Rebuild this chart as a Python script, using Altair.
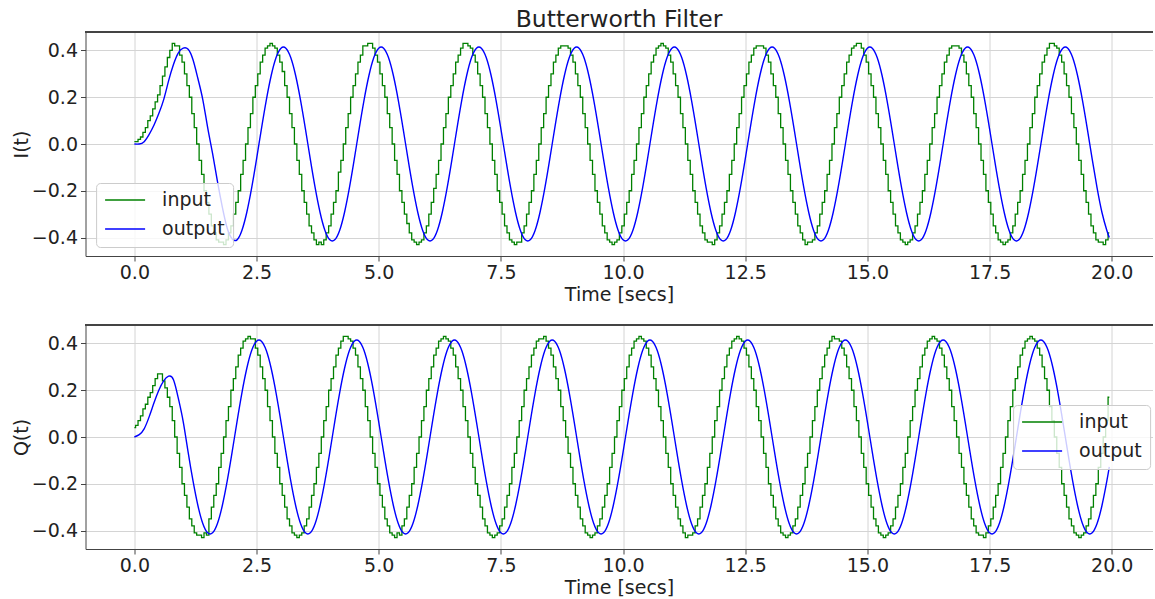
import altair as alt
import pandas as pd

# ---------------- data ----------------
# sampling grids of the recording, seconds
TIME_IN = [round(i * 0.05, 2) for i in range(400)]             # quantised inputs
TIME_OUT = [round(i * 0.1, 1) for i in range(200)] + [19.95]   # filter outputs

SERIES = ["input", "output"]
COLORS = ["#008000", "#0000ff"]
X_TICKS = [0.0, 2.5, 5.0, 7.5, 10.0, 12.5, 15.0, 17.5, 20.0]
Y_TICKS = [-0.4, -0.2, 0.0, 0.2, 0.4]

I_INPUT = [
    # 0.00 - 0.75
    0.01, 0.01, 0.02, 0.03, 0.05, 0.07, 0.10, 0.12, 0.15, 0.18, 0.21, 0.25, 0.29, 0.33, 0.37, 0.40,
    # 0.80 - 2.75
    0.43, 0.42, 0.42, 0.38, 0.35, 0.30, 0.25, 0.20, 0.13, 0.07, 0.00, -0.07, -0.13, -0.20, -0.25, -0.30, -0.35, -0.38, -0.41, -0.42,
    -0.42, -0.43, -0.41, -0.38, -0.35, -0.30, -0.25, -0.20, -0.13, -0.07, 0.00, 0.07, 0.13, 0.20, 0.25, 0.30, 0.35, 0.38, 0.41, 0.42,
    # 2.80 - 4.75
    0.43, 0.42, 0.41, 0.38, 0.35, 0.31, 0.25, 0.20, 0.13, 0.07, 0.00, -0.07, -0.13, -0.20, -0.25, -0.30, -0.35, -0.38, -0.41, -0.43,
    -0.42, -0.43, -0.41, -0.38, -0.35, -0.30, -0.25, -0.20, -0.12, -0.07, 0.00, 0.07, 0.13, 0.20, 0.25, 0.30, 0.35, 0.38, 0.42, 0.42,
    # 4.80 - 6.75
    0.43, 0.43, 0.41, 0.38, 0.35, 0.30, 0.25, 0.20, 0.13, 0.07, 0.00, -0.07, -0.13, -0.20, -0.25, -0.30, -0.34, -0.38, -0.41, -0.42,
    -0.43, -0.42, -0.41, -0.38, -0.35, -0.30, -0.25, -0.19, -0.13, -0.07, 0.00, 0.07, 0.13, 0.20, 0.25, 0.30, 0.35, 0.38, 0.41, 0.43,
    # 6.80 - 8.75
    0.43, 0.42, 0.41, 0.38, 0.35, 0.30, 0.25, 0.20, 0.13, 0.07, 0.00, -0.07, -0.13, -0.20, -0.25, -0.30, -0.35, -0.38, -0.41, -0.42,
    -0.43, -0.42, -0.42, -0.38, -0.35, -0.30, -0.25, -0.20, -0.13, -0.07, 0.00, 0.07, 0.13, 0.20, 0.25, 0.30, 0.35, 0.38, 0.41, 0.42,
    # 8.80 - 10.75
    0.42, 0.42, 0.41, 0.38, 0.35, 0.30, 0.25, 0.20, 0.13, 0.07, 0.00, -0.07, -0.13, -0.20, -0.25, -0.30, -0.35, -0.38, -0.41, -0.42,
    -0.43, -0.42, -0.41, -0.38, -0.35, -0.30, -0.25, -0.20, -0.13, -0.07, 0.00, 0.07, 0.13, 0.20, 0.25, 0.30, 0.35, 0.38, 0.41, 0.42,
    # 10.80 - 12.75
    0.43, 0.42, 0.41, 0.38, 0.35, 0.30, 0.25, 0.20, 0.13, 0.07, 0.00, -0.07, -0.13, -0.20, -0.25, -0.30, -0.35, -0.38, -0.41, -0.42,
    -0.42, -0.43, -0.41, -0.38, -0.35, -0.30, -0.25, -0.20, -0.13, -0.07, 0.00, 0.07, 0.13, 0.20, 0.25, 0.30, 0.35, 0.38, 0.41, 0.42,
    # 12.80 - 14.75
    0.42, 0.42, 0.41, 0.38, 0.35, 0.30, 0.25, 0.20, 0.13, 0.07, 0.00, -0.07, -0.13, -0.20, -0.25, -0.30, -0.35, -0.38, -0.41, -0.43,
    -0.42, -0.42, -0.41, -0.38, -0.35, -0.30, -0.25, -0.20, -0.13, -0.07, 0.00, 0.07, 0.13, 0.20, 0.25, 0.30, 0.35, 0.38, 0.41, 0.42,
    # 14.80 - 16.75
    0.43, 0.43, 0.41, 0.38, 0.35, 0.30, 0.25, 0.20, 0.13, 0.07, 0.00, -0.07, -0.13, -0.20, -0.25, -0.30, -0.35, -0.38, -0.41, -0.42,
    -0.43, -0.42, -0.41, -0.38, -0.35, -0.30, -0.25, -0.20, -0.13, -0.07, 0.00, 0.07, 0.13, 0.20, 0.25, 0.30, 0.35, 0.38, 0.41, 0.42,
    # 16.80 - 18.75
    0.42, 0.42, 0.41, 0.38, 0.35, 0.30, 0.25, 0.20, 0.13, 0.07, 0.00, -0.07, -0.13, -0.20, -0.25, -0.30, -0.35, -0.38, -0.41, -0.42,
    -0.43, -0.42, -0.41, -0.38, -0.35, -0.30, -0.25, -0.20, -0.13, -0.07, 0.00, 0.07, 0.13, 0.20, 0.25, 0.30, 0.35, 0.38, 0.41, 0.43,
    # 18.80 - 19.95
    0.43, 0.42, 0.41, 0.38, 0.35, 0.30, 0.25, 0.20, 0.13, 0.07, 0.00, -0.07, -0.13, -0.20, -0.25, -0.30, -0.35, -0.38, -0.41, -0.42,
    -0.42, -0.43, -0.41, -0.38,
]

I_OUTPUT = [
    0.000, 0.000, 0.010, 0.040, 0.080, 0.130, 0.190, 0.270, 0.340, 0.390,
    0.410, 0.405, 0.360, 0.280, 0.190, 0.070, -0.040, -0.160, -0.270, -0.360,
    -0.405, -0.410, -0.370, -0.293, -0.188, -0.065, 0.065, 0.188, 0.293, 0.370,
    0.410, 0.410, 0.370, 0.293, 0.188, 0.065, -0.065, -0.188, -0.293, -0.370,
    -0.410, -0.410, -0.370, -0.293, -0.188, -0.065, 0.065, 0.188, 0.293, 0.370,
    0.410, 0.410, 0.370, 0.293, 0.188, 0.065, -0.065, -0.188, -0.293, -0.370,
    -0.410, -0.410, -0.370, -0.293, -0.188, -0.065, 0.065, 0.188, 0.293, 0.370,
    0.410, 0.410, 0.370, 0.293, 0.188, 0.065, -0.065, -0.188, -0.293, -0.370,
    -0.410, -0.410, -0.370, -0.293, -0.188, -0.065, 0.065, 0.188, 0.293, 0.370,
    0.410, 0.410, 0.370, 0.293, 0.188, 0.065, -0.065, -0.188, -0.293, -0.370,
    -0.410, -0.410, -0.370, -0.293, -0.188, -0.065, 0.065, 0.188, 0.293, 0.370,
    0.410, 0.410, 0.370, 0.293, 0.188, 0.065, -0.065, -0.188, -0.293, -0.370,
    -0.410, -0.410, -0.370, -0.293, -0.188, -0.065, 0.065, 0.188, 0.293, 0.370,
    0.410, 0.410, 0.370, 0.293, 0.188, 0.065, -0.065, -0.188, -0.293, -0.370,
    -0.410, -0.410, -0.370, -0.293, -0.188, -0.065, 0.065, 0.188, 0.293, 0.370,
    0.410, 0.410, 0.370, 0.293, 0.188, 0.065, -0.065, -0.188, -0.293, -0.370,
    -0.410, -0.410, -0.370, -0.293, -0.188, -0.065, 0.065, 0.188, 0.293, 0.370,
    0.410, 0.410, 0.370, 0.293, 0.188, 0.065, -0.065, -0.188, -0.293, -0.370,
    -0.410, -0.410, -0.370, -0.293, -0.188, -0.065, 0.065, 0.188, 0.293, 0.370,
    0.410, 0.410, 0.370, 0.293, 0.188, 0.065, -0.065, -0.188, -0.293, -0.370,
    -0.400,
]

Q_INPUT = [
    # 0.00 - 0.70
    0.04, 0.05, 0.07, 0.09, 0.12, 0.14, 0.17, 0.19, 0.22, 0.25, 0.27, 0.27, 0.24, 0.21, 0.17,
    # 0.75 - 2.70
    0.13, 0.07, 0.00, -0.07, -0.13, -0.20, -0.25, -0.30, -0.35, -0.38, -0.41, -0.42, -0.42, -0.43, -0.41, -0.42, -0.35, -0.30, -0.25, -0.20,
    -0.13, -0.07, 0.00, 0.07, 0.13, 0.20, 0.25, 0.30, 0.35, 0.38, 0.41, 0.42, 0.43, 0.42, 0.42, 0.38, 0.35, 0.30, 0.25, 0.20,
    # 2.75 - 4.70
    0.13, 0.07, 0.00, -0.07, -0.13, -0.20, -0.25, -0.30, -0.35, -0.38, -0.41, -0.42, -0.43, -0.42, -0.41, -0.38, -0.35, -0.30, -0.25, -0.20,
    -0.13, -0.07, 0.00, 0.07, 0.13, 0.20, 0.25, 0.30, 0.35, 0.38, 0.41, 0.43, 0.43, 0.42, 0.41, 0.38, 0.35, 0.30, 0.25, 0.20,
    # 4.75 - 6.70
    0.13, 0.07, 0.00, -0.07, -0.13, -0.20, -0.25, -0.30, -0.35, -0.38, -0.41, -0.42, -0.43, -0.41, -0.42, -0.38, -0.35, -0.30, -0.25, -0.20,
    -0.13, -0.07, 0.00, 0.07, 0.13, 0.20, 0.25, 0.30, 0.35, 0.38, 0.41, 0.42, 0.43, 0.42, 0.41, 0.38, 0.35, 0.30, 0.25, 0.20,
    # 6.75 - 8.70
    0.13, 0.07, 0.00, -0.07, -0.13, -0.20, -0.25, -0.30, -0.35, -0.38, -0.41, -0.42, -0.43, -0.42, -0.41, -0.38, -0.35, -0.30, -0.25, -0.20,
    -0.13, -0.07, 0.00, 0.07, 0.13, 0.20, 0.25, 0.30, 0.35, 0.38, 0.41, 0.42, 0.42, 0.43, 0.41, 0.38, 0.35, 0.30, 0.25, 0.20,
    # 8.75 - 10.70
    0.13, 0.07, 0.00, -0.07, -0.13, -0.20, -0.25, -0.30, -0.35, -0.38, -0.41, -0.42, -0.43, -0.42, -0.41, -0.38, -0.35, -0.30, -0.25, -0.20,
    -0.13, -0.07, 0.00, 0.07, 0.13, 0.20, 0.25, 0.30, 0.35, 0.38, 0.41, 0.42, 0.43, 0.42, 0.41, 0.38, 0.35, 0.30, 0.25, 0.20,
    # 10.75 - 12.70
    0.13, 0.07, 0.00, -0.07, -0.13, -0.20, -0.25, -0.30, -0.35, -0.38, -0.41, -0.43, -0.42, -0.42, -0.41, -0.38, -0.35, -0.30, -0.25, -0.20,
    -0.13, -0.07, 0.00, 0.07, 0.13, 0.20, 0.25, 0.30, 0.35, 0.38, 0.41, 0.42, 0.43, 0.42, 0.41, 0.38, 0.35, 0.30, 0.25, 0.20,
    # 12.75 - 14.70
    0.13, 0.07, 0.00, -0.07, -0.13, -0.20, -0.25, -0.30, -0.35, -0.38, -0.41, -0.42, -0.43, -0.42, -0.41, -0.38, -0.35, -0.30, -0.25, -0.20,
    -0.13, -0.07, 0.00, 0.07, 0.13, 0.20, 0.25, 0.30, 0.35, 0.38, 0.41, 0.43, 0.42, 0.42, 0.41, 0.38, 0.35, 0.30, 0.25, 0.20,
    # 14.75 - 16.70
    0.13, 0.07, 0.00, -0.07, -0.13, -0.20, -0.25, -0.30, -0.35, -0.38, -0.41, -0.42, -0.43, -0.42, -0.41, -0.38, -0.35, -0.30, -0.25, -0.20,
    -0.13, -0.07, 0.00, 0.07, 0.13, 0.20, 0.25, 0.30, 0.35, 0.38, 0.41, 0.42, 0.43, 0.42, 0.41, 0.38, 0.35, 0.30, 0.25, 0.20,
    # 16.75 - 18.70
    0.13, 0.07, 0.00, -0.07, -0.13, -0.20, -0.25, -0.30, -0.35, -0.38, -0.41, -0.42, -0.42, -0.43, -0.41, -0.38, -0.35, -0.30, -0.25, -0.20,
    -0.13, -0.07, 0.00, 0.07, 0.13, 0.20, 0.25, 0.30, 0.35, 0.38, 0.41, 0.42, 0.43, 0.42, 0.41, 0.38, 0.35, 0.30, 0.25, 0.20,
    # 18.75 - 19.95
    0.13, 0.07, 0.00, -0.07, -0.13, -0.20, -0.25, -0.30, -0.35, -0.38, -0.41, -0.42, -0.43, -0.42, -0.41, -0.38, -0.35, -0.30, -0.25, -0.20,
    -0.13, -0.07, 0.00, 0.07, 0.17,
]

Q_OUTPUT = [
    0.000, 0.010, 0.035, 0.085, 0.145, 0.200, 0.240, 0.260, 0.245, 0.165,
    0.065, -0.065, -0.188, -0.293, -0.370, -0.410, -0.410, -0.370, -0.293, -0.188,
    -0.065, 0.065, 0.188, 0.293, 0.370, 0.410, 0.410, 0.370, 0.293, 0.188,
    0.065, -0.065, -0.188, -0.293, -0.370, -0.410, -0.410, -0.370, -0.293, -0.188,
    -0.065, 0.065, 0.188, 0.293, 0.370, 0.410, 0.410, 0.370, 0.293, 0.188,
    0.065, -0.065, -0.188, -0.293, -0.370, -0.410, -0.410, -0.370, -0.293, -0.188,
    -0.065, 0.065, 0.188, 0.293, 0.370, 0.410, 0.410, 0.370, 0.293, 0.188,
    0.065, -0.065, -0.188, -0.293, -0.370, -0.410, -0.410, -0.370, -0.293, -0.188,
    -0.065, 0.065, 0.188, 0.293, 0.370, 0.410, 0.410, 0.370, 0.293, 0.188,
    0.065, -0.065, -0.188, -0.293, -0.370, -0.410, -0.410, -0.370, -0.293, -0.188,
    -0.065, 0.065, 0.188, 0.293, 0.370, 0.410, 0.410, 0.370, 0.293, 0.188,
    0.065, -0.065, -0.188, -0.293, -0.370, -0.410, -0.410, -0.370, -0.293, -0.188,
    -0.065, 0.065, 0.188, 0.293, 0.370, 0.410, 0.410, 0.370, 0.293, 0.188,
    0.065, -0.065, -0.188, -0.293, -0.370, -0.410, -0.410, -0.370, -0.293, -0.188,
    -0.065, 0.065, 0.188, 0.293, 0.370, 0.410, 0.410, 0.370, 0.293, 0.188,
    0.065, -0.065, -0.188, -0.293, -0.370, -0.410, -0.410, -0.370, -0.293, -0.188,
    -0.065, 0.065, 0.188, 0.293, 0.370, 0.410, 0.410, 0.370, 0.293, 0.188,
    0.065, -0.065, -0.188, -0.293, -0.370, -0.410, -0.410, -0.370, -0.293, -0.188,
    -0.065, 0.065, 0.188, 0.293, 0.370, 0.410, 0.410, 0.370, 0.293, 0.188,
    0.065, -0.065, -0.188, -0.293, -0.370, -0.410, -0.410, -0.370, -0.293, -0.188,
    -0.128,
]

# ---------------- layout ----------------
FONT = "DejaVu Sans"
W = 1067          # plot width (reference plot runs past the right edge)
H = 224
X_DOMAIN = [-1.0, 20.834]
Y_DOMAIN = [-0.479, 0.479]
FRAME = "#444444"
TEXT = "#222222"
GRID = "#d4d4d4"


def frame_of(times, values, name):
    n = min(len(times), len(values))
    return pd.DataFrame({"t": times[:n], "v": values[:n], "s": name})


def panel(inp, out, ylab, legend_xy, title=None):
    df_in = frame_of(TIME_IN, inp, SERIES[0])
    df_out = frame_of(TIME_OUT, out, SERIES[1])

    x = alt.X(
        "t:Q",
        scale=alt.Scale(domain=X_DOMAIN, nice=False, zero=False),
        axis=alt.Axis(
            values=X_TICKS, format=".1f", title="Time [secs]",
            grid=True, gridColor=GRID, gridWidth=1,
            domainColor=FRAME, tickColor=FRAME, tickSize=5,
            labelFont=FONT, labelFontSize=19, labelColor=TEXT, labelPadding=2,
            labelOverlap=False, labelFlush=False,
            titleFont=FONT, titleFontSize=19, titleColor=TEXT,
            titleFontWeight="normal", titlePadding=3,
        ),
    )
    y = alt.Y(
        "v:Q",
        scale=alt.Scale(domain=Y_DOMAIN, nice=False, zero=False),
        axis=alt.Axis(
            values=Y_TICKS, format=".1f", title=ylab,
            grid=True, gridColor=GRID, gridWidth=1,
            domainColor=FRAME, tickColor=FRAME, tickSize=5,
            labelFont=FONT, labelFontSize=19, labelColor=TEXT, labelPadding=3,
            titleFont=FONT, titleFontSize=19, titleColor=TEXT,
            titleFontWeight="normal", titlePadding=0,
        ),
    )
    color = alt.Color(
        "s:N",
        scale=alt.Scale(domain=SERIES, range=COLORS),
        legend=alt.Legend(
            orient="none", legendX=legend_xy[0], legendY=legend_xy[1],
            title=None, symbolType="stroke", symbolSize=1600,
            symbolStrokeWidth=1.5, labelFont=FONT, labelFontSize=19,
            labelColor=TEXT, labelOffset=16, padding=8, rowPadding=10,
            clipHeight=18, fillColor="rgba(255,255,255,0.8)",
            strokeColor="#cccccc", cornerRadius=4,
        ),
    )

    l_in = alt.Chart(df_in).mark_line(
        interpolate="step", strokeWidth=1.3, clip=True
    ).encode(x=x, y=y, color=color)
    l_out = alt.Chart(df_out).mark_line(
        interpolate="natural", strokeWidth=1.4, clip=True
    ).encode(x=x, y=y, color=color)
    top_edge = alt.Chart(df_in).mark_rule(color=FRAME, strokeWidth=1).encode(
        x=alt.value(0), x2=alt.value(W), y=alt.value(0)
    )
    props = dict(width=W, height=H)
    if title is not None:
        props["title"] = alt.Title(
            title, font=FONT, fontSize=23.5, fontWeight="normal", color=TEXT,
            anchor="middle", frame="group", offset=-19, baseline="alphabetic",
        )
    return alt.layer(l_in, l_out, top_edge).properties(**props)


top = panel(I_INPUT, I_OUTPUT, "I(t)", (10.6, 151), title="Butterworth Filter")
bottom = panel(Q_INPUT, Q_OUTPUT, "Q(t)", (927.6, 80))

chart = (
    alt.vconcat(top, bottom, spacing=69, bounds="flush")
    .resolve_scale(color="independent")
    .resolve_legend(color="independent")
    .properties(padding={"left": 11.5, "top": 8, "right": 0, "bottom": 0},
                background="white")
    .configure_view(stroke=None)
)

chart.save("out.html", embed_options={"renderer": "svg", "actions": False})
